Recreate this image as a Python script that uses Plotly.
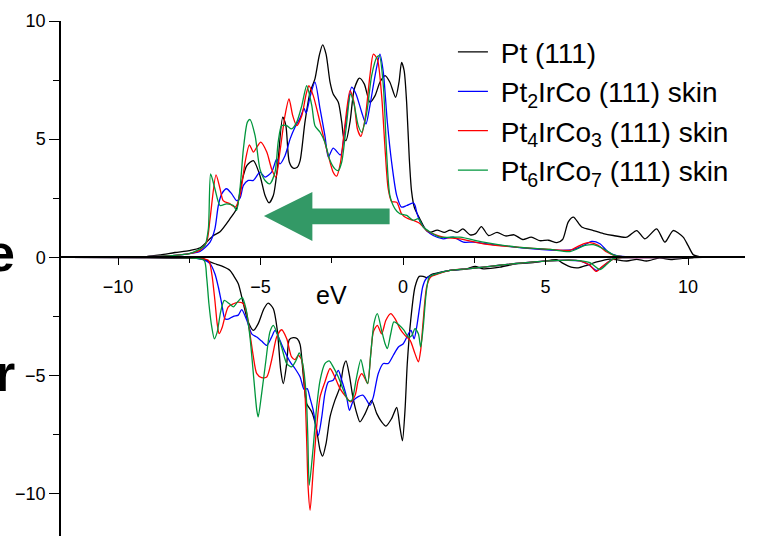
import plotly.graph_objects as go

# ---------------- data ----------------
# Pt (111)
pt_up_x = [-11.8, -9.0, -8.5, -8.0, -7.5, -7.12, -6.65, -6.42, -6.07, -5.84, -5.66, -5.48, -5.25, -5.02, -4.84,
           -4.70, -4.55, -4.41, -4.22, -4.11, -3.99, -3.85, -3.71, -3.61, -3.44, -3.26, -3.09, -2.94, -2.82,
           -2.70, -2.56, -2.45, -2.27, -2.15, -2.07, -2.0, -1.86, -1.71, -1.53, -1.36, -1.16, -0.98, -0.81,
           -0.63, -0.46, -0.26, -0.14, -0.05, 0.04, 0.13, 0.22, 0.30, 0.40, 0.60, 0.75, 0.85, 0.95, 1.2,
           1.45, 1.65, 1.9, 2.1, 2.35, 2.55, 2.75, 3.0, 3.3, 3.6, 3.9, 4.2, 4.5, 4.8, 5.1, 5.4, 5.6, 5.8,
           5.98, 6.27, 6.68, 7.03, 7.38, 7.85, 8.2, 8.49, 8.9, 9.19, 9.48, 9.83, 10.0, 10.19, 10.4, 12.0]
pt_up_y = [0.03, 0.03, 0.1, 0.2, 0.28, 0.4, 0.92, 1.08, 1.63, 2.05, 3.18, 3.88, 4.09, 3.46, 2.61,
           2.30, 2.61, 3.74, 5.93, 5.57, 4.03, 3.77, 3.81, 4.09, 5.72, 6.99, 7.55, 8.53, 8.99,
           8.6, 7.41, 6.91, 6.56, 5.72, 5.01, 4.94, 5.72, 7.12, 7.58, 7.34, 6.56, 6.84, 7.41,
           7.69, 7.41, 6.77, 7.41, 8.25, 7.9, 6.5, 4.2, 2.8, 2.1, 1.6, 1.25, 1.1, 1.05, 1.15,
           1.05, 1.15, 1.05, 1.2, 0.95, 1.0, 1.3, 0.92, 1.05, 0.9, 0.95, 0.75, 0.85, 0.7, 0.72, 0.62, 0.75, 1.5,
           1.70, 1.28, 1.13, 1.0, 0.92, 0.85, 1.13, 0.78, 1.2, 0.64, 1.13, 0.85, 0.5, 0.1, 0.03, 0.03]
pt_dn_x = [-11.8, -9.0, -7.5, -7.01, -6.77, -6.54, -6.31, -6.07, -5.95, -5.78, -5.60, -5.43, -5.25, -5.08,
           -4.88, -4.73, -4.55, -4.41, -4.29, -4.20, -4.08, -3.99, -3.85, -3.71, -3.61, -3.50, -3.38, -3.20,
           -3.05, -2.91, -2.82, -2.70, -2.56, -2.39, -2.21, -2.09, -2.0, -1.88, -1.76, -1.62, -1.51, -1.33,
           -1.10, -0.92, -0.75, -0.60, -0.40, -0.22, -0.11, -0.02, 0.07, 0.15, 0.27, 0.42, 0.57, 0.71, 0.83,
           1.01, 1.18, 1.65, 2.24, 2.53, 2.82, 3.40, 3.99, 4.57, 5.16, 5.4, 5.6, 5.9, 6.15, 6.45, 6.80,
           7.26, 7.85, 8.2, 8.55, 9.0, 9.4, 9.8, 10.2, 10.5, 12.0]
pt_dn_y = [0.0, -0.02, -0.05, -0.06, -0.2, -0.3, -0.4, -0.56, -0.77, -1.12, -1.97, -2.74, -3.10, -2.81,
           -2.18, -1.94, -2.18, -3.1, -4.79, -5.35, -4.5, -3.49, -3.4, -3.45, -3.7, -5.0, -6.2, -6.55,
           -7.18, -8.17, -8.42, -7.89, -6.76, -6.06, -5.49, -4.64, -4.39, -5.0, -5.91, -6.62, -6.97, -6.62,
           -6.06, -6.62, -6.97, -7.15, -6.83, -6.36, -7.18, -7.77, -6.48, -4.5, -2.67, -1.26, -0.81, -0.81, -0.86,
           -0.72, -0.67, -0.56, -0.49, -0.39, -0.49, -0.42, -0.27, -0.23, -0.13, -0.1, -0.25, -0.42, -0.45, -0.34, -0.2,
           -0.08, -0.16, -0.09, -0.16, -0.03, -0.1, -0.05, -0.02, 0.0, 0.0]

# Pt2IrCo (111) skin
b_up_x = [-11.8, -9.0, -8.0, -7.5, -7.12, -6.77, -6.60, -6.48, -6.36, -6.19, -6.01, -5.84, -5.72, -5.60,
          -5.43, -5.25, -5.02, -4.84, -4.61, -4.43, -4.32, -4.14, -3.96, -3.79, -3.61, -3.47, -3.40, -3.26,
          -3.09, -2.91, -2.74, -2.62, -2.45, -2.19, -2.04, -1.80, -1.65, -1.45, -1.30, -1.16, -0.98, -0.81,
          -0.69, -0.55, -0.40, -0.22, -0.05, 0.13, 0.36, 0.42, 0.48, 0.60, 0.83, 1.06, 1.41, 1.76, 2.12,
          2.47, 3.40, 4.57, 5.51, 5.98, 6.33, 6.62, 6.91, 7.20, 7.50, 7.8, 9.78]
b_up_y = [0.03, 0.03, 0.08, 0.15, 0.25, 0.64, 1.2, 2.19, 2.68, 2.9, 2.68, 2.4, 2.5, 3.04,
          3.25, 3.25, 3.6, 3.39, 3.6, 4.16, 3.95, 4.3, 5.01, 5.5, 5.9, 6.3, 6.1, 6.8,
          7.41, 6.28, 5.15, 4.24, 4.62, 4.33, 5.43, 7.2, 6.91, 6.14, 5.64, 6.42, 7.69, 8.6,
          7.83, 5.72, 4.03, 2.61, 2.12, 2.19, 2.3, 2.2, 1.91, 1.5, 1.13, 0.92, 0.78, 0.85, 0.64,
          0.64, 0.5, 0.36, 0.29, 0.33, 0.5, 0.67, 0.57, 0.22, 0.07, 0.03, 0.03]
b_dn_x = [-11.8, -9.0, -7.5, -7.01, -6.77, -6.60, -6.48, -6.36, -6.25, -6.13, -5.95, -5.78, -5.66, -5.48,
          -5.31, -5.13, -4.96, -4.78, -4.61, -4.49, -4.32, -4.14, -3.96, -3.79, -3.61, -3.47, -3.36, -3.26,
          -3.15, -3.03, -2.97, -2.85, -2.74, -2.62, -2.45, -2.27, -2.15, -1.98, -1.88, -1.74, -1.57, -1.41,
          -1.27, -1.16, -1.04, -0.87, -0.69, -0.52, -0.34, -0.16, 0.01, 0.19, 0.28, 0.39, 0.48, 0.60, 0.69,
          0.81, 1.01, 1.18, 1.65, 2.24, 2.82, 3.40, 4.57, 5.51, 6.2, 6.5, 6.80, 7.0, 7.26, 7.5, 7.8, 9.78]
b_dn_y = [0.0, -0.02, -0.03, -0.1, -0.27, -0.7, -1.26, -1.97, -2.6, -2.62, -2.5, -2.45, -2.22, -2.67,
          -3.24, -3.38, -3.55, -3.73, -3.38, -3.1, -3.52, -4.01, -4.43, -4.71, -5.07, -5.6, -5.56, -5.98,
          -6.48, -7.32, -7.54, -6.76, -5.77, -5.28, -5.21, -4.79, -5.21, -5.91, -6.48, -6.06, -5.9, -5.84,
          -6.06, -6.27, -5.91, -4.93, -4.5, -4.5, -4.15, -3.8, -3.66, -3.24, -3.1, -3.45, -2.96, -1.97, -1.26,
          -0.91, -0.77, -0.7, -0.56, -0.49, -0.42, -0.34, -0.2, -0.13, -0.15, -0.3, -0.56, -0.4, -0.15, -0.03, -0.02, -0.02]

# Pt4IrCo3 (111) skin
r_up_x = [-11.8, -9.0, -8.0, -7.5, -7.12, -6.89, -6.77, -6.56, -6.42, -6.31, -6.07, -5.89, -5.72, -5.54,
          -5.39, -5.25, -5.13, -4.99, -4.78, -4.61, -4.46, -4.32, -4.14, -4.0, -3.87, -3.73, -3.55, -3.40,
          -3.30, -3.15, -2.97, -2.80, -2.62, -2.45, -2.33, -2.19, -2.04, -1.86, -1.72, -1.60, -1.48, -1.33,
          -1.16, -1.04, -0.90, -0.75, -0.63, -0.52, -0.40, -0.22, -0.05, 0.13, 0.36, 0.60, 0.83, 1.06,
          1.41, 2.0, 2.82, 3.99, 5.16, 5.86, 5.98, 6.33, 6.56, 6.85, 7.15, 7.44, 7.7, 9.78]
r_up_y = [0.03, 0.03, 0.08, 0.15, 0.3, 0.64, 1.63, 3.49, 2.9, 2.4, 2.26, 2.12, 2.61, 4.03,
          4.76, 4.45, 4.66, 4.87, 4.45, 3.74, 3.39, 4.45, 6.0, 6.7, 6.0, 5.57, 6.0, 6.9,
          7.26, 6.84, 6.0, 5.15, 4.3, 3.6, 3.43, 4.03, 5.57, 7.05, 6.56, 5.43, 5.12, 5.86,
          7.69, 8.6, 8.39, 6.84, 4.59, 2.9, 2.36, 2.33, 1.84, 1.66, 1.56, 1.42, 1.13, 0.99,
          0.85, 0.78, 0.57, 0.43, 0.33, 0.29, 0.36, 0.57, 0.62, 0.5, 0.22, 0.07, 0.03, 0.03]
r_dn_x = [-11.8, -9.0, -7.5, -6.83, -6.71, -6.60, -6.52, -6.45, -6.34, -6.25, -6.13, -5.95, -5.78, -5.60,
          -5.48, -5.37, -5.25, -5.13, -4.96, -4.78, -4.61, -4.43, -4.26, -4.08, -3.91, -3.79, -3.67, -3.55,
          -3.44, -3.38, -3.33, -3.26, -3.15, -3.03, -2.91, -2.74, -2.56, -2.39, -2.21, -2.0, -1.84, -1.68,
          -1.57, -1.45, -1.33, -1.24, -1.13, -1.04, -0.90, -0.75, -0.60, -0.43, -0.28, -0.11, 0.07, 0.25,
          0.42, 0.54, 0.62, 0.71, 0.83, 0.97, 1.18, 1.65, 2.24, 2.82, 3.40, 4.57, 5.51, 6.21, 6.56, 6.77,
          6.97, 7.20, 7.44, 7.7, 9.78]
r_dn_y = [0.0, -0.02, -0.03, -0.13, -0.7, -1.83, -2.81, -3.23, -2.95, -2.53, -2.1, -1.97, -1.9, -1.97,
          -2.39, -3.24, -4.22, -4.93, -5.1, -5.07, -4.36, -3.37, -3.07, -3.45, -4.22, -4.33, -4.15, -4.36,
          -5.77, -7.75, -9.72, -10.71, -9.01, -7.18, -5.91, -5.28, -4.71, -5.07, -5.56, -5.91, -6.12, -5.84,
          -5.21, -4.93, -5.14, -5.35, -4.08, -3.16, -2.88, -3.24, -2.67, -2.39, -2.6, -3.02, -3.31, -3.52,
          -4.08, -4.43, -3.94, -2.67, -1.26, -0.84, -0.73, -0.56, -0.49, -0.42, -0.34, -0.2, -0.13, -0.15, -0.34, -0.6,
          -0.41, -0.2, -0.06, -0.02, -0.02]

# Pt6IrCo7 (111) skin
g_up_x = [-11.8, -9.0, -8.0, -7.5, -7.2, -6.95, -6.83, -6.75, -6.60, -6.42, -6.19, -5.95, -5.84, -5.72,
          -5.60, -5.46, -5.37, -5.19, -5.02, -4.84, -4.67, -4.49, -4.38, -4.26, -4.08, -3.91, -3.73, -3.55,
          -3.38, -3.20, -3.09, -2.91, -2.74, -2.56, -2.39, -2.27, -2.15, -2.0, -1.84, -1.72, -1.57, -1.45,
          -1.27, -1.10, -0.92, -0.83, -0.69, -0.57, -0.46, -0.28, -0.11, 0.13, 0.36, 0.54, 0.71, 0.95,
          1.30, 2.0, 2.82, 3.99, 5.16, 5.86, 6.39, 6.68, 7.03, 7.38, 7.7, 9.78]
g_up_y = [0.03, 0.03, 0.08, 0.15, 0.3, 0.5, 1.2, 3.53, 2.9, 2.19, 2.26, 2.19, 1.98, 2.9,
          4.59, 5.72, 5.83, 5.15, 3.74, 3.25, 3.11, 3.6, 4.87, 5.57, 5.57, 5.43, 5.72, 6.42,
          7.26, 6.42, 5.57, 5.29, 4.87, 4.09, 3.74, 3.67, 4.03, 5.43, 6.91, 6.49, 5.57, 5.29,
          6.14, 7.69, 8.46, 8.53, 7.26, 4.3, 2.61, 2.05, 1.84, 1.77, 1.56, 1.63, 1.28, 1.07,
          0.85, 0.85, 0.64, 0.43, 0.33, 0.24, 0.5, 0.53, 0.36, 0.1, 0.03, 0.03]
g_dn_x = [-11.8, -9.0, -7.5, -6.98, -6.89, -6.81, -6.71, -6.62, -6.52, -6.40, -6.27, -6.09, -5.95, -5.81,
          -5.64, -5.51, -5.37, -5.23, -5.13, -5.08, -4.96, -4.81, -4.67, -4.55, -4.41, -4.26, -4.08, -3.91,
          -3.75, -3.64, -3.52, -3.40, -3.34, -3.29, -3.15, -3.03, -2.91, -2.74, -2.59, -2.45, -2.27, -2.09,
          -1.92, -1.80, -1.65, -1.48, -1.36, -1.24, -1.13, -1.02, -0.90, -0.75, -0.63, -0.55, -0.43, -0.32,
          -0.13, 0.04, 0.19, 0.31, 0.42, 0.54, 0.62, 0.71, 0.81, 0.92, 1.18, 1.65, 2.24, 2.82, 3.40, 4.57,
          5.51, 6.2, 6.56, 6.91, 7.15, 7.38, 7.6, 9.78]
g_dn_y = [0.0, -0.02, -0.03, -0.13, -0.84, -1.97, -2.95, -3.45, -3.17, -2.32, -1.83, -1.97, -2.1, -1.9,
          -1.71, -2.18, -3.37, -5.21, -6.48, -6.76, -5.77, -4.36, -3.16, -2.88, -3.24, -3.8, -4.5, -4.64,
          -4.36, -4.05, -4.5, -5.77, -7.6, -9.65, -8.03, -6.34, -5.21, -4.5, -4.39, -4.64, -5.07, -5.63,
          -6.06, -6.06, -5.21, -4.33, -4.93, -5.35, -4.08, -2.81, -2.39, -3.1, -3.66, -3.87, -3.24, -2.74,
          -2.88, -3.1, -3.38, -3.31, -3.02, -3.24, -3.8, -2.95, -1.55, -0.84, -0.7, -0.56, -0.49, -0.42, -0.34, -0.2,
          -0.13, -0.14, -0.23, -0.52, -0.3, -0.06, -0.02, -0.02]

names = ["Pt (111)", "Pt<sub>2</sub>IrCo (111) skin",
         "Pt<sub>4</sub>IrCo<sub>3</sub> (111) skin", "Pt<sub>6</sub>IrCo<sub>7</sub> (111) skin"]
colors = ["#000000", "#0000FF", "#FF0000", "#00963C"]

# arrow outline (eV, states) - annotation shape
arrow_x = [-0.47, -3.18, -3.18, -4.88, -3.18, -3.18, -0.47]
arrow_y = [1.40, 1.40, 0.69, 1.75, 2.76, 2.06, 2.06]

x_ticks = [-10, -5, 0, 5, 10]
y_ticks = [-10, -5, 0, 5, 10]
minor_ticks = [-7.5, -2.5, 2.5, 7.5]
x_range = [-12, 12]
y_range = [-11.8, 10]

# ---------------- figure ----------------
FONT = "Arial, 'Liberation Sans', sans-serif"
fig = go.Figure()
series = [(pt_up_x, pt_up_y, pt_dn_x, pt_dn_y), (b_up_x, b_up_y, b_dn_x, b_dn_y),
          (r_up_x, r_up_y, r_dn_x, r_dn_y), (g_up_x, g_up_y, g_dn_x, g_dn_y)]
for i, (ux, uy, dx, dy) in enumerate(series):
    fig.add_trace(go.Scatter(x=ux, y=uy, mode="lines", name="\u00a0" + names[i], legendgroup=str(i),
                             line=dict(color=colors[i], width=1.3, shape="spline", smoothing=0.7)))
    fig.add_trace(go.Scatter(x=dx, y=dy, mode="lines", name=names[i], legendgroup=str(i), showlegend=False,
                             line=dict(color=colors[i], width=1.3, shape="spline", smoothing=0.7)))

path = "M " + " L ".join(f"{a},{b}" for a, b in zip(arrow_x, arrow_y)) + " Z"
fig.add_shape(type="path", path=path, xref="x", yref="y", fillcolor="#339966",
              line=dict(width=0), layer="above")

xpos = (0 - y_range[0]) / (y_range[1] - y_range[0])
fig.update_layout(
    width=773, height=536,
    margin=dict(l=61, r=28, t=21, b=0),
    paper_bgcolor="white", plot_bgcolor="white",
    font=dict(family=FONT, color="black"),
    showlegend=True,
    legend=dict(x=0.573, y=0.988, xanchor="left", yanchor="top", bgcolor="rgba(0,0,0,0)",
                font=dict(size=28, family=FONT), tracegroupgap=0, itemwidth=30),
    xaxis=dict(range=x_range, anchor="free", position=xpos, showline=True, linecolor="black",
               linewidth=1.5, ticks="outside", ticklen=7, tickwidth=1.3, tickcolor="black",
               tickvals=x_ticks, showgrid=False, zeroline=False, tickfont=dict(size=18),
               ticklabelstandoff=6,
               minor=dict(tickvals=minor_ticks, ticks="outside", ticklen=5,
                          tickwidth=1.3, tickcolor="black", showgrid=False)),
    yaxis=dict(range=y_range, showline=True, linecolor="black", linewidth=1.5, ticks="outside",
               ticklen=10, tickwidth=1.3, tickcolor="black", tickvals=y_ticks, showgrid=False,
               zeroline=False, tickfont=dict(size=18),
               minor=dict(tickvals=minor_ticks, ticks="outside", ticklen=6,
                          tickwidth=1.3, tickcolor="black", showgrid=False)),
)
fig.add_annotation(text="eV", x=-2.52, y=-1.6, xref="x", yref="y", showarrow=False,
                   font=dict(size=25, family=FONT))
fig.add_annotation(text="e", x=-0.064, y=0.17, xref="paper", yref="y", xanchor="right",
                   yanchor="middle", showarrow=False,
                   font=dict(size=52, family=FONT, weight="bold"))
fig.add_annotation(text="r", x=-0.064, y=-4.9, xref="paper", yref="y", xanchor="right",
                   yanchor="middle", showarrow=False,
                   font=dict(size=52, family=FONT, weight="bold"))

fig.write_html("out.html")
